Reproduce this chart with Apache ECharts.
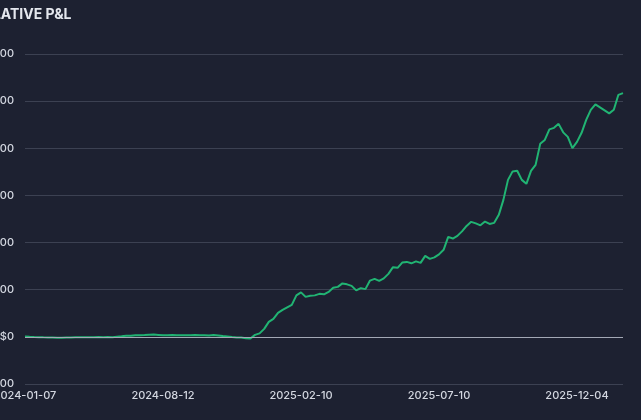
<!DOCTYPE html>
<html>
<head>
<meta charset="utf-8">
<script src="https://cdn.jsdelivr.net/npm/echarts@6/dist/echarts.min.js"></script>
<style>
html,body{margin:0;padding:0;background:#1d2131;}
#c{width:641px;height:420px;}
</style>
</head>
<body>
<div id="c"></div>
<script>
const titleText = 'CUMULATIVE P&L';

const dates = [
'2024-01-07','2024-01-14','2024-01-21','2024-01-28','2024-02-04','2024-02-11','2024-02-18','2024-02-25','2024-03-03','2024-03-10',
'2024-03-17','2024-03-24','2024-03-31','2024-04-07','2024-04-14','2024-04-21','2024-04-28','2024-05-05','2024-05-12','2024-05-19',
'2024-05-26','2024-06-02','2024-06-09','2024-06-17','2024-06-25','2024-07-03','2024-07-11','2024-07-19','2024-07-27','2024-08-04',
'2024-08-12','2024-08-18','2024-08-24','2024-08-30','2024-09-05','2024-09-11','2024-09-17','2024-09-23','2024-09-29','2024-10-05',
'2024-10-11','2024-10-17','2024-10-23','2024-10-29','2024-11-04','2024-11-10','2024-11-16','2024-11-22','2024-11-28','2024-12-04',
'2024-12-10','2024-12-16','2024-12-22','2024-12-28','2025-01-03','2025-01-09','2025-01-15','2025-01-21','2025-01-27','2025-02-03',
'2025-02-10','2025-02-15','2025-02-20','2025-02-25','2025-03-02','2025-03-07','2025-03-12','2025-03-17','2025-03-22','2025-03-27',
'2025-04-01','2025-04-06','2025-04-11','2025-04-16','2025-04-21','2025-04-26','2025-05-01','2025-05-06','2025-05-11','2025-05-16',
'2025-05-21','2025-05-26','2025-05-31','2025-06-05','2025-06-10','2025-06-15','2025-06-20','2025-06-25','2025-06-30','2025-07-05',
'2025-07-10','2025-07-15','2025-07-20','2025-07-25','2025-07-30','2025-08-04','2025-08-09','2025-08-14','2025-08-19','2025-08-24',
'2025-08-29','2025-09-03','2025-09-08','2025-09-13','2025-09-18','2025-09-23','2025-09-28','2025-10-03','2025-10-08','2025-10-13',
'2025-10-18','2025-10-23','2025-10-28','2025-11-02','2025-11-07','2025-11-12','2025-11-17','2025-11-22','2025-11-26','2025-11-30',
'2025-12-04','2025-12-09','2025-12-14','2025-12-19','2025-12-24','2025-12-29','2026-01-03','2026-01-08','2026-01-13','2026-01-18',
'2026-01-23'
];

const pnl = [
3,0,-2,-3,-5,-6,-8,-10,-9,-7,
-6,-4,-5,-3,-3,-4,-2,-4,-1,-3,
2,6,11,13,16,18,19,23,24,21,
18,17,19,16,18,18,16,19,17,18,
15,19,14,8,4,-2,-6,-8,-14,-18,
21,37,85,159,191,254,286,313,339,440,
472,424,435,440,456,451,477,520,530,567,
557,541,493,517,506,597,615,594,620,668,
739,732,788,795,780,801,785,859,827,843,
875,923,1061,1043,1071,1119,1177,1220,1204,1183,
1223,1198,1209,1294,1453,1665,1755,1761,1665,1623,
1761,1824,2047,2089,2201,2217,2259,2169,2121,2001,
2068,2164,2301,2408,2466,2434,2402,2370,2408,2567,
2585
];

const yMin = -500, yMax = 3000, yStep = 500;

function money(v){
  const s = Math.abs(v).toLocaleString('en-US');
  return (v < 0 ? '-$' : '$') + s;
}

const chart = echarts.init(document.getElementById('c'), null, {renderer:'canvas'});
chart.setOption({
  backgroundColor: '#1d2131',
  animation: false,
  textStyle: {fontFamily: 'Inter, "Noto Sans", sans-serif'},
  title: {
    text: titleText,
    left: -56, top: 3,
    textStyle: {color: '#e4e7ee', fontSize: 14, fontWeight: 'bold', fontFamily: 'Inter, sans-serif'}
  },
  grid: {left: 25, right: 18, top: 54, bottom: 36, containLabel: false, outerBoundsMode: 'none'},
  xAxis: {
    type: 'category',
    data: dates,
    boundaryGap: false,
    axisLine: {show: false},
    axisTick: {show: false},
    splitLine: {show: false},
    axisLabel: {interval: 29, color: '#d3d7e0', fontSize: 11, fontWeight: 500, margin: 6, hideOverlap: false}
  },
  yAxis: {
    type: 'value',
    min: yMin, max: yMax, interval: yStep,
    axisLine: {show: false},
    axisTick: {show: false},
    axisLabel: {color: '#d3d7e0', fontSize: 11, fontWeight: 500, margin: 11, formatter: money},
    splitLine: {show: true, lineStyle: {color: '#3c4152', width: 1}}
  },
  series: [{
    type: 'line',
    data: pnl,
    showSymbol: false,
    smooth: false,
    lineStyle: {color: '#21b473', width: 2},
    markLine: {
      silent: true,
      symbol: 'none',
      label: {show: false},
      lineStyle: {color: '#a3a8b5', width: 1, type: 'solid'},
      data: [{yAxis: 0}]
    },
    z: 3
  }]
});
</script>
</body>
</html>
